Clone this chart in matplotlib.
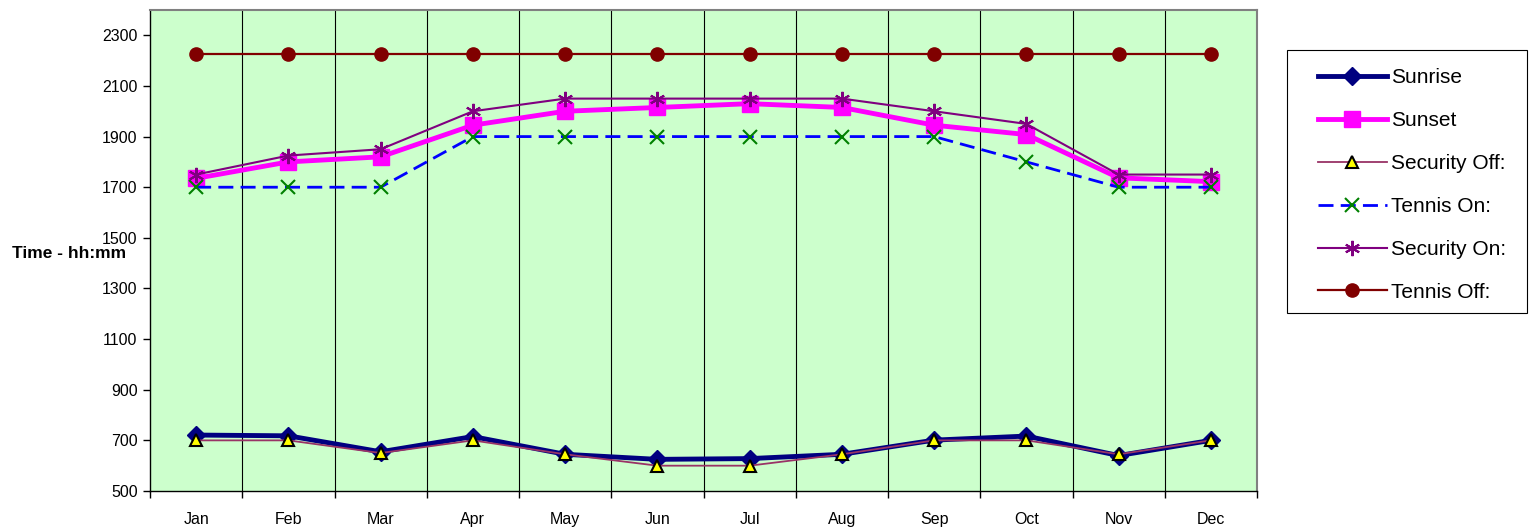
import numpy as np
import matplotlib
matplotlib.use('Agg')
import matplotlib.pyplot as plt
from matplotlib.patches import Rectangle
from matplotlib.ticker import FixedLocator

plt.rcParams['font.family'] = ['Liberation Sans', 'DejaVu Sans']

months = ['Jan', 'Feb', 'Mar', 'Apr', 'May', 'Jun', 'Jul', 'Aug', 'Sep', 'Oct', 'Nov', 'Dec']
sunrise = [721, 718, 655, 715, 645, 625, 628, 645, 701, 717, 640, 700]
sunset = [1735, 1800, 1820, 1945, 2000, 2015, 2030, 2015, 1945, 1908, 1737, 1722]
security_off = [700, 700, 650, 700, 645, 600, 600, 645, 700, 700, 645, 700]
tennis_on = [1700, 1700, 1700, 1900, 1900, 1900, 1900, 1900, 1900, 1800, 1700, 1700]
security_on = [1750, 1825, 1850, 2000, 2050, 2050, 2050, 2050, 2000, 1950, 1750, 1750]
tennis_off = [2225] * 12
y_ticks = [500, 700, 900, 1100, 1300, 1500, 1700, 1900, 2100, 2300]

W, H = 1529, 528
fig = plt.figure(figsize=(W / 100, H / 100), dpi=100)
ax = fig.add_axes([150 / W, 37 / H, 1107 / W, 481 / H])
ax.set_facecolor('#CCFFCC')

x = np.arange(len(months))

ax.plot(x, sunrise, color='#000080', lw=3.5, marker='D', ms=9,
        mfc='#000080', mec='#000080', label='Sunrise', zorder=3)
ax.plot(x, sunset, color='#FF00FF', lw=3.5, marker='s', ms=12,
        mfc='#FF00FF', mec='#FF00FF', label='Sunset', zorder=3)
ax.plot(x, security_off, color='#993366', lw=1.3, marker='^', ms=8,
        mfc='#FFFF00', mec='black', mew=1.5, label='Security Off:', zorder=4)
ax.plot(x, tennis_on, color='#0000FF', lw=2, ls=(0, (5.4, 2.6)), marker='x', ms=9.5,
        mec='#008000', mew=1.5, label='Tennis On:', zorder=4)
ax.plot(x, security_on, color='#800080', lw=1.5, marker=(6, 2, 0), ms=11,
        mec='#800080', mew=1.5, label='Security On:', zorder=4)
ax.plot(x, tennis_off, color='#800000', lw=1.6, marker='o', ms=9.5,
        mfc='#800000', mec='#800000', label='Tennis Off:', zorder=4)

ax.set_xlim(-0.5, len(months) - 0.5)
ax.set_ylim(500, 2400)
ax.set_yticks(y_ticks)
ax.tick_params(axis='y', labelsize=11.5, length=5, direction='out', width=1, pad=4)

ax.set_xticks(x)
ax.set_xticklabels(months)
ax.tick_params(axis='x', which='major', length=0, labelsize=11.5, pad=15)
bounds = np.arange(-0.5, len(months), 1.0)
ax.xaxis.set_minor_locator(FixedLocator(bounds))
ax.tick_params(axis='x', which='minor', length=5, width=1)
for b in bounds[1:-1]:
    ax.axvline(b, color='black', lw=0.8, zorder=1)

for sp in ax.spines.values():
    sp.set_color('#808080')
    sp.set_linewidth(1.5)
ax.spines['left'].set_color('black')
ax.spines['left'].set_linewidth(1)
ax.spines['bottom'].set_color('black')
ax.spines['bottom'].set_linewidth(1)

fig.text(12 / W, 1 - 254 / H, 'Time - hh:mm', fontsize=12.5, fontweight='bold',
         ha='left', va='center')

# legend box drawn by hand, entries placed inside it
fig.patches.append(Rectangle((1287 / W, 1 - 313 / H), 240 / W, 263 / H,
                             transform=fig.transFigure, fill=False,
                             edgecolor='black', lw=0.8))
leg = fig.legend(loc='upper left', bbox_to_anchor=(1318 / W, 1 - 68 / H),
                 fontsize=15, frameon=False, handlelength=3.3,
                 labelspacing=1.15, borderpad=0, handletextpad=0.2,
                 borderaxespad=0)

fig.savefig('out.png', dpi=100)
